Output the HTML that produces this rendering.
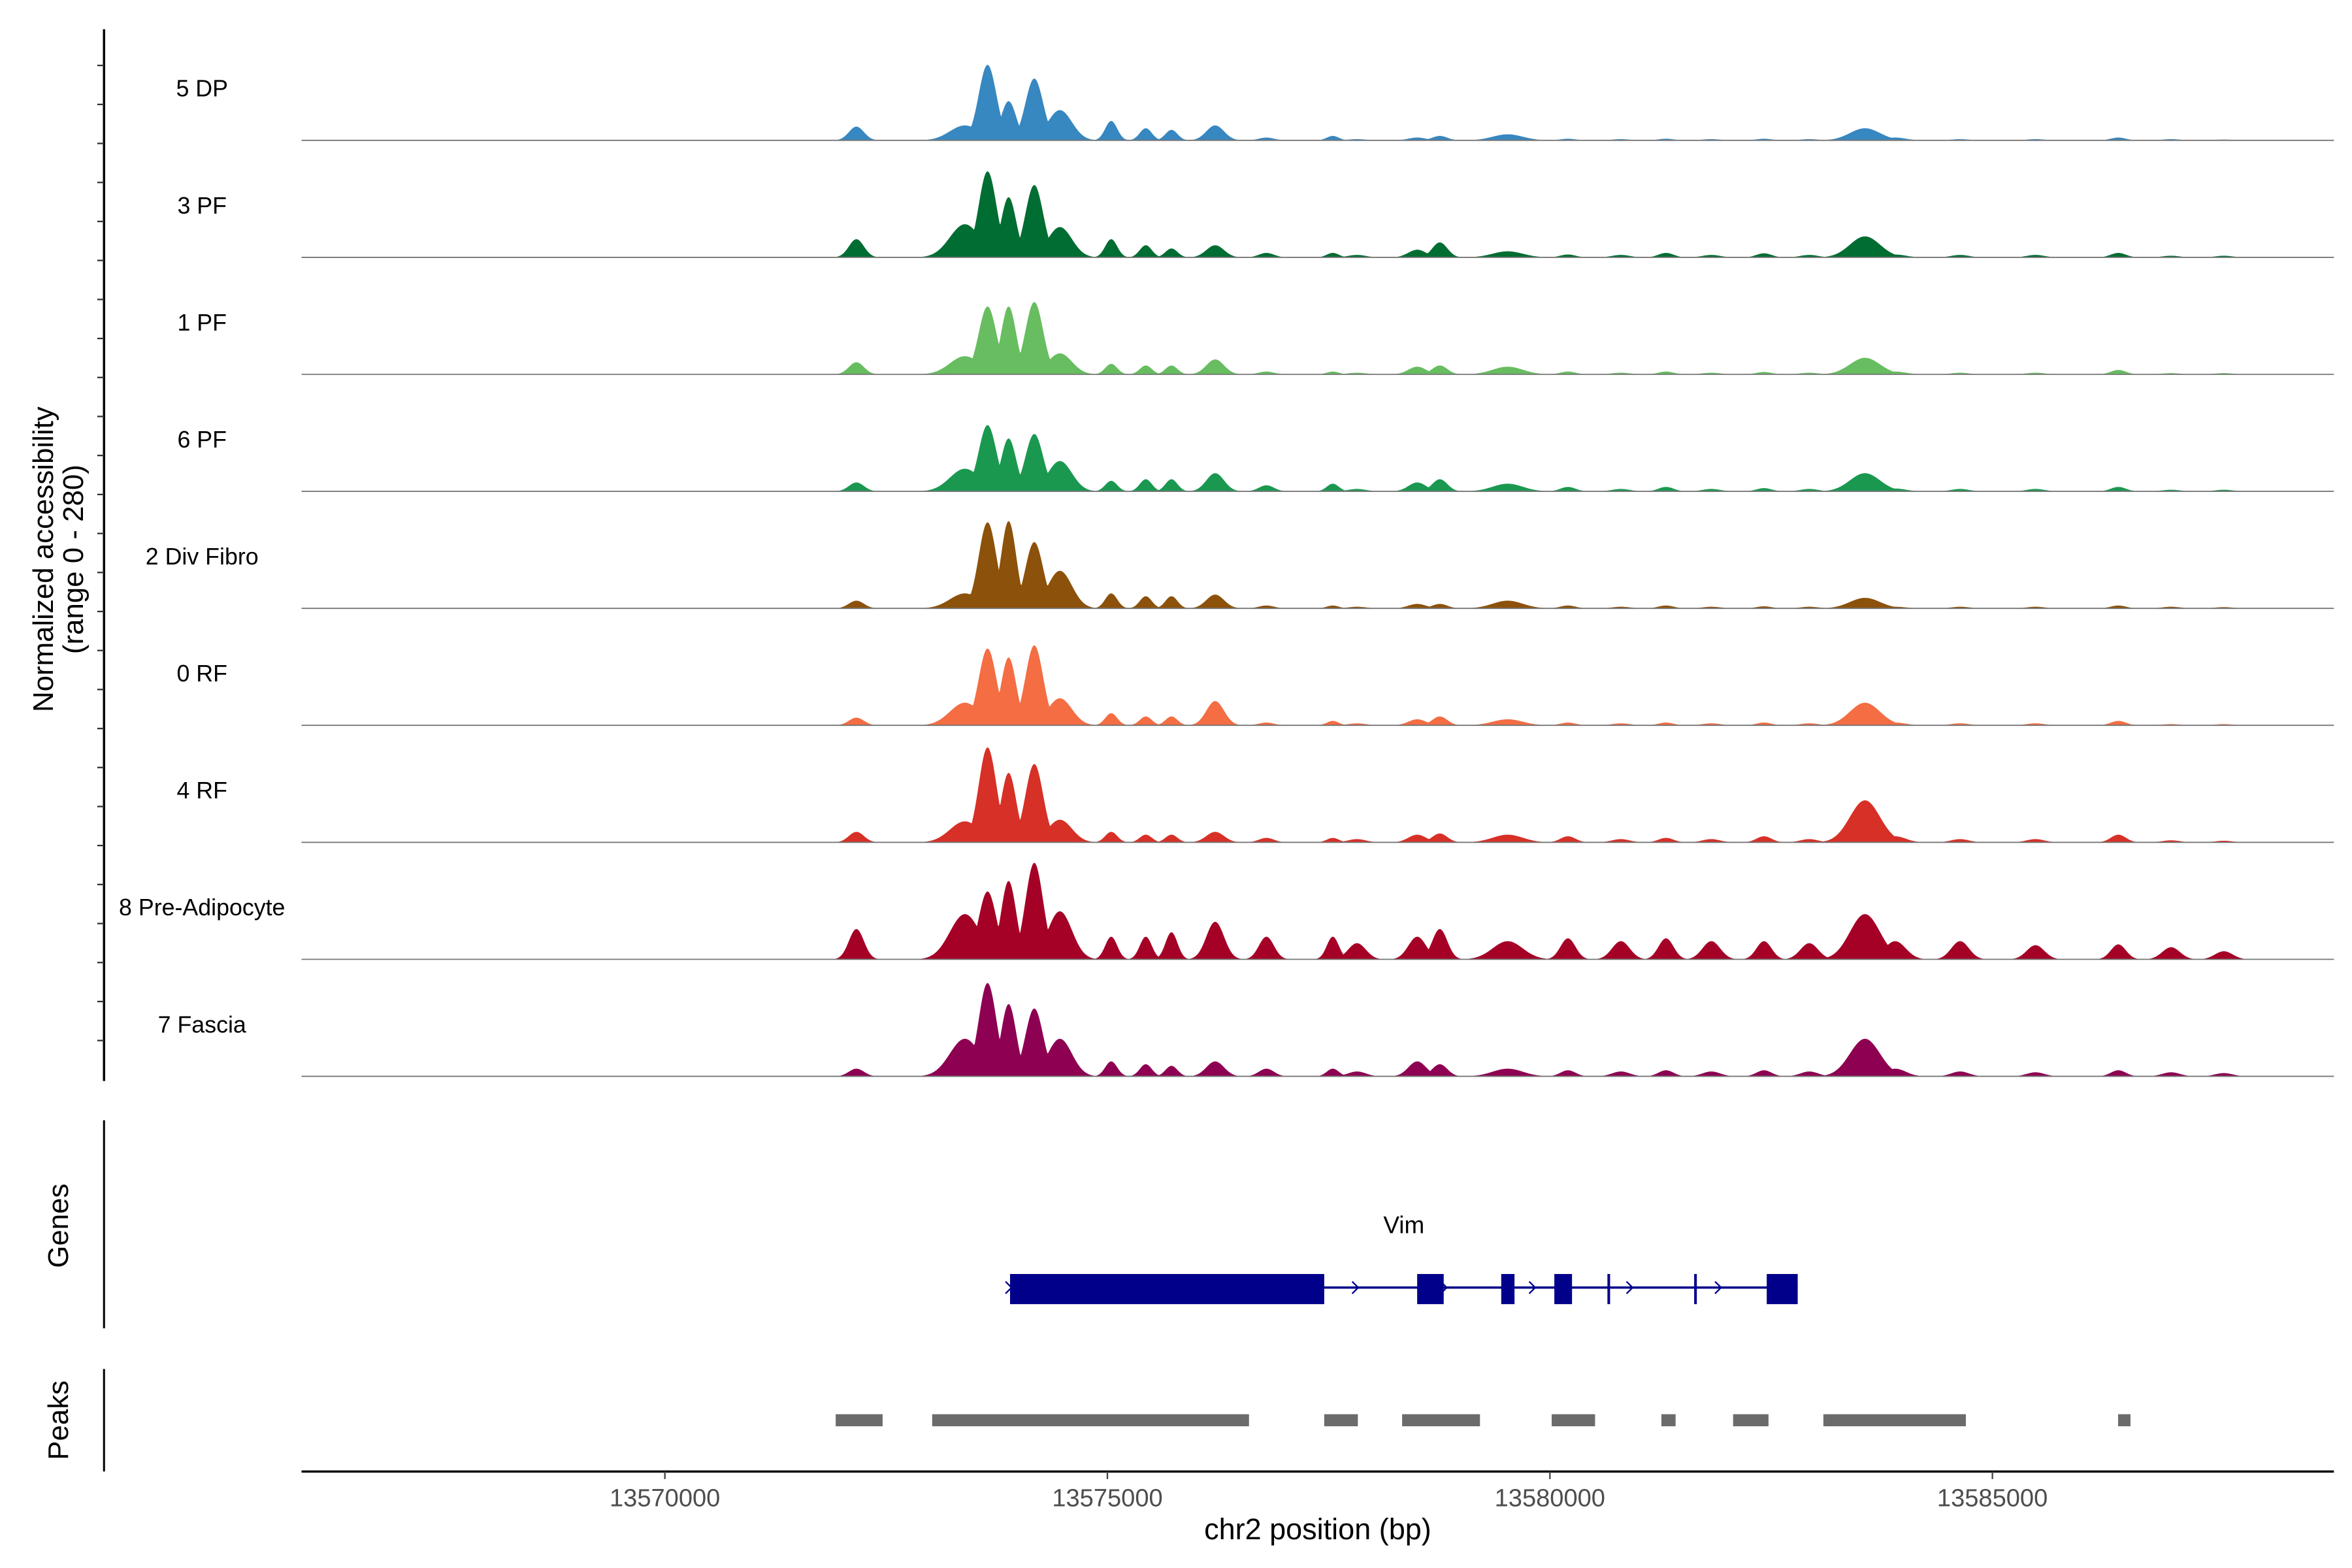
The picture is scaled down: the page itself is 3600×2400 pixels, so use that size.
<!DOCTYPE html>
<html><head><meta charset="utf-8"><style>
html,body{margin:0;padding:0;background:#fff;}
svg{display:block;font-family:"Liberation Sans",sans-serif;}
</style></head><body>
<svg id="chart" width="3600" height="2400" viewBox="0 0 1560 1040" xmlns="http://www.w3.org/2000/svg">
<rect width="1560" height="1040" fill="#fff"/>
<g id="tracks"></g>
<g id="yaxis"></g>
<text transform="translate(35,371) rotate(-90)" text-anchor="middle" font-size="19">Normalized accessibility</text>
<text transform="translate(55,371) rotate(-90)" text-anchor="middle" font-size="19">(range 0 - 280)</text>
<line x1="69" y1="743" x2="69" y2="881" stroke="#000" stroke-width="1.3"/>
<text transform="translate(45,813) rotate(-90)" text-anchor="middle" font-size="19">Genes</text>
<line x1="69" y1="908" x2="69" y2="976" stroke="#000" stroke-width="1.3"/>
<text transform="translate(45,942) rotate(-90)" text-anchor="middle" font-size="19">Peaks</text>
<g id="genes"></g>
<g id="peaks"></g>
<g id="xaxis"></g>
<text x="874" y="1021" text-anchor="middle" font-size="19.5">chr2 position (bp)</text>
</svg>
<script>
const trackNames = ["5 DP","3 PF","1 PF","6 PF","2 Div Fibro","0 RF","4 RF","8 Pre-Adipocyte","7 Fascia"];
const trackColors = ["#3787c0","#006d32","#67bd60","#1b9850","#8c510a","#f46d43","#d73027","#a50026","#8e0152"];
const peakCentersBp = [13572164,13573390,13573646,13573884,13574174,13574463,13575043,13575434,13575724,13576218,13576797,13577547,13578501,13578756,13579523,13580204,13581312,13582419,13583560,13583901,13586423,13577820,13580802,13581824,13582931,13584635,13585487,13587019,13587615];
const peakWidthBp = [85,170,100,85,100,136,68,68,68,100,85,68,100,85,170,85,85,85,170,120,85,100,100,100,100,100,100,100,100];
const heightsDP = [34,37,187,97,153,75,48,30,26,37,7,11,7,11,15,4,4,4,30,7,7,3,3,3,3,3,3,3,2];
const heights3PF = [45,82,213,149,179,75,45,30,22,30,11,11,19,37,15,7,11,10,52,7,11,6,6,6,6,6,6,4,4];
const heights1PF = [30,45,168,168,179,52,26,22,22,37,7,7,19,22,19,7,7,6,41,7,11,4,4,4,4,4,4,3,3];
const heights6PF = [22,56,164,131,142,75,26,30,30,45,15,19,22,30,19,11,11,8,45,7,11,6,6,6,6,6,6,4,4];
const heightsDiv = [19,37,213,216,164,93,37,30,30,34,7,7,11,11,19,7,7,5,26,4,7,4,4,4,4,4,4,4,3];
const heights0RF = [19,56,190,168,198,67,30,22,22,60,7,11,15,22,15,7,7,7,56,7,11,5,5,5,5,5,5,3,3];
const heights4RF = [26,52,235,172,194,56,26,19,19,26,11,11,19,22,19,15,11,15,104,15,19,8,8,8,8,8,8,5,4];
const heights8Pre = [75,112,168,194,239,119,56,56,67,93,56,56,56,75,45,52,52,45,112,45,37,40,45,45,40,45,35,30,20];
const heights7Fas = [19,93,231,179,168,93,37,30,26,37,19,19,37,30,19,15,15,15,93,19,15,12,12,12,12,12,10,10,8];
const trackHeights = [heightsDP,heights3PF,heights1PF,heights6PF,heightsDiv,heights0RF,heights4RF,heights8Pre,heights7Fas];
const xTicks = [13570000,13575000,13580000,13585000];
const geneName = "Vim";
const geneStart = 13573900, geneEnd = 13582800;
const exonStarts = [13573900,13578500,13579450,13580050,13580650,13581630,13582450];
const exonEnds   = [13577450,13578800,13579600,13580250,13580680,13581660,13582800];
const peakStarts = [13571930,13573020,13577450,13578330,13580020,13581260,13582070,13583090,13586420];
const peakEnds   = [13572460,13576600,13577830,13579210,13580510,13581420,13582470,13584700,13586560];
const yMax = 280;

const NS="http://www.w3.org/2000/svg";
const X0=200,X1=1548;
function xScale(bp){return 441+(bp-13570000)*293.5/5000;}
function xInv(px){return 13570000+(px-441)*5000/293.5;}
const trackTop=16, trackStep=77.6, trackH=75;
function yScale(v,i){const base=trackTop+trackStep*(i+1)-0.5;return base-v/yMax*trackH;}
function mk(tag,attrs,parent){const e=document.createElementNS(NS,tag);for(const k in attrs)e.setAttribute(k,attrs[k]);parent.appendChild(e);return e;}

const gT=document.getElementById('tracks');
trackNames.forEach((name,i)=>{
  const g=mk('g',{},gT);
  
  
  const hs=trackHeights[i];
  let d='M'+X0+','+yScale(0,i);
  for(let px=X0;px<=X1;px+=0.5){
    const bp=xInv(px);let v=0;
    for(let k=0;k<peakCentersBp.length;k++){
      const z=(bp-peakCentersBp[k])/peakWidthBp[k];
      if(Math.abs(z)<5){const val=hs[k]*Math.exp(-z*z/2);if(val>v)v=val;}
    }
    d+=' L'+px+','+yScale(v,i).toFixed(2);
  }
  d+=' L'+X1+','+yScale(0,i)+' Z';
  const p=mk('path',{d:d,fill:trackColors[i]},g);
  
  
  const bl=mk('line',{x1:X0,x2:X1,y1:yScale(0,i),y2:yScale(0,i),stroke:'#777','stroke-width':0.8},g);
  
  
  const t=mk('text',{x:134,y:trackTop+trackStep*i+48,'text-anchor':'middle','font-size':'15.5'},g);
  t.textContent=name;
  
  
});

const gY=document.getElementById('yaxis');
mk('line',{x1:69,y1:19.4,x2:69,y2:717,stroke:'#000','stroke-width':1.5},gY);
for(let y=43.4;y<716;y+=25.87){mk('line',{x1:64.5,x2:69,y1:y,y2:y,stroke:'#333','stroke-width':1},gY);}

const gG=document.getElementById('genes');
const gl=mk('line',{x1:xScale(geneStart),x2:xScale(geneEnd),y1:854,y2:854,stroke:'#00008b','stroke-width':1.5},gG);


for(let k=0;k<exonStarts.length;k++){
  const x=xScale(exonStarts[k]),w=Math.max(1.5,xScale(exonEnds[k])-x);
  const r=mk('rect',{x:x,y:845,width:w,height:20,fill:'#00008b'},gG);
  
  
}
[13577800,13578800,13579800,13580900,13581900].forEach(bp=>{const x=xScale(bp);mk('path',{d:`M${x-2},850 L${x+2},854 L${x-2},858`,fill:'none',stroke:'#00008b','stroke-width':1},gG);});
mk('path',{d:`M${xScale(geneStart)-3},850 L${xScale(geneStart)+1},854 L${xScale(geneStart)-3},858`,fill:'none',stroke:'#00008b','stroke-width':1},gG);
const gn=mk('text',{x:xScale((geneStart+geneEnd)/2),y:818,'text-anchor':'middle','font-size':'16'},gG);
gn.textContent=geneName;



const gP=document.getElementById('peaks');
for(let k=0;k<peakStarts.length;k++){
  const x=xScale(peakStarts[k]);
  const r=mk('rect',{x:x,y:938,width:Math.max(3,xScale(peakEnds[k])-x),height:8,fill:'#6b6b6b'},gP);
  
  
}

const gX=document.getElementById('xaxis');
mk('line',{x1:X0,x2:X1,y1:976,y2:976,stroke:'#000','stroke-width':1.5},gX);
xTicks.forEach(v=>{
  const x=xScale(v);
  mk('line',{x1:x,x2:x,y1:976,y2:981,stroke:'#444','stroke-width':1},gX);
  const t=mk('text',{x:x,y:999,'text-anchor':'middle','font-size':'16.5',fill:'#4d4d4d'},gX);
  t.textContent=v;
  
  
});
</script>
</body></html>
